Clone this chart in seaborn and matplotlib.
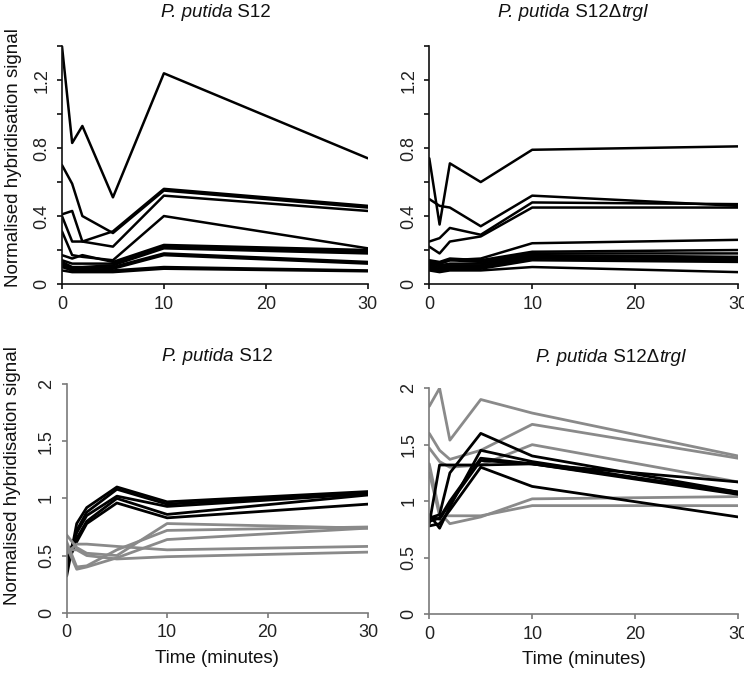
import matplotlib
matplotlib.use("Agg")
import numpy as np
import pandas as pd
import matplotlib.pyplot as plt
import seaborn as sns
from matplotlib.offsetbox import TextArea, HPacker, AnchoredOffsetbox

# ---------------------------- data ----------------------------
time = [0, 1, 2, 5, 10, 30]

# top row: individual probes, all black
wt_top = [
    [1.40, 0.83, 0.93, 0.51, 1.24, 0.74],
    [0.70, 0.59, 0.40, 0.30, 0.55, 0.45],
    [0.41, 0.43, 0.25, 0.31, 0.56, 0.46],
    [0.40, 0.25, 0.25, 0.22, 0.52, 0.43],
    [0.31, 0.17, 0.16, 0.14, 0.40, 0.21],
    [0.17, 0.15, 0.17, 0.13, 0.23, 0.20],
    [0.14, 0.12, 0.12, 0.12, 0.22, 0.19],
    [0.13, 0.10, 0.10, 0.11, 0.21, 0.18],
    [0.12, 0.09, 0.09, 0.10, 0.18, 0.13],
    [0.11, 0.08, 0.08, 0.09, 0.17, 0.12],
    [0.10, 0.08, 0.08, 0.08, 0.10, 0.08],
    [0.08, 0.07, 0.07, 0.07, 0.09, 0.075],
]
mut_top = [
    [0.74, 0.35, 0.71, 0.60, 0.79, 0.81],
    [0.50, 0.46, 0.45, 0.34, 0.52, 0.46],
    [0.25, 0.27, 0.33, 0.29, 0.48, 0.47],
    [0.22, 0.18, 0.25, 0.28, 0.45, 0.45],
    [0.13, 0.12, 0.14, 0.15, 0.24, 0.26],
    [0.14, 0.13, 0.15, 0.14, 0.19, 0.20],
    [0.13, 0.12, 0.14, 0.13, 0.18, 0.18],
    [0.12, 0.11, 0.12, 0.12, 0.17, 0.16],
    [0.11, 0.10, 0.11, 0.11, 0.16, 0.15],
    [0.10, 0.09, 0.10, 0.10, 0.15, 0.14],
    [0.09, 0.08, 0.09, 0.09, 0.14, 0.13],
    [0.08, 0.07, 0.08, 0.08, 0.10, 0.07],
]

# bottom row: black and grey probe groups
wt_bottom_black = [
    [0.32, 0.78, 0.92, 1.10, 0.97, 1.06],
    [0.40, 0.72, 0.88, 1.08, 0.95, 1.05],
    [0.45, 0.70, 0.85, 1.02, 0.93, 1.04],
    [0.50, 0.65, 0.80, 1.00, 0.86, 1.03],
    [0.42, 0.62, 0.78, 0.96, 0.83, 0.95],
]
wt_bottom_grey = [
    [0.68, 0.57, 0.52, 0.50, 0.78, 0.74],
    [0.62, 0.40, 0.41, 0.55, 0.72, 0.75],
    [0.58, 0.38, 0.40, 0.48, 0.64, 0.74],
    [0.52, 0.60, 0.60, 0.58, 0.55, 0.58],
    [0.55, 0.55, 0.50, 0.47, 0.49, 0.53],
]
mut_bottom_black = [
    [0.80, 1.32, 1.32, 1.32, 1.33, 1.17],
    [0.85, 0.88, 1.25, 1.60, 1.40, 1.08],
    [0.88, 0.76, 0.95, 1.45, 1.35, 1.07],
    [0.82, 0.85, 1.00, 1.38, 1.33, 1.08],
    [0.78, 0.80, 0.92, 1.30, 1.13, 0.86],
    [0.86, 0.84, 0.98, 1.36, 1.33, 1.06],
]
mut_bottom_grey = [
    [1.84, 2.00, 1.54, 1.90, 1.78, 1.40],
    [1.60, 1.45, 1.37, 1.45, 1.68, 1.38],
    [1.47, 1.35, 1.30, 1.32, 1.50, 1.17],
    [1.33, 0.90, 0.80, 0.86, 1.02, 1.04],
    [1.25, 0.87, 0.87, 0.87, 0.96, 0.96],
]

# title pieces: (text, italic?)
title_wt = [("P. putida", True), (" S12", False)]
title_mut = [("P. putida", True), (" S12Δ", False), ("trgI", True)]


def to_long(groups):
    rows = []
    for group, series in groups.items():
        for i, values in enumerate(series):
            for t, v in zip(time, values):
                rows.append({"time": t, "signal": v, "probe": f"{group}{i}", "group": group})
    return pd.DataFrame(rows)


def mixed_title(ax, pieces, x, y):
    areas = [
        TextArea(txt, textprops=dict(fontsize=13.5, color="#111111",
                                     fontstyle="italic" if it else "normal"))
        for txt, it in pieces
    ]
    box = HPacker(children=areas, align="baseline", pad=0, sep=0)
    anchored = AnchoredOffsetbox(loc="center", child=box, pad=0, frameon=False,
                                 bbox_to_anchor=(x, y), bbox_transform=ax.transAxes,
                                 borderpad=0)
    ax.add_artist(anchored)


# ---------------------------- style ----------------------------
sns.set_style("ticks")
plt.rcParams["font.family"] = ["Liberation Sans", "DejaVu Sans"]

fig = plt.figure(figsize=(7.44, 6.74), dpi=100)

positions = {
    "tl": [0.0833, 0.5786, 0.411, 0.353],
    "tr": [0.577, 0.5786, 0.415, 0.353],
    "bl": [0.0896, 0.091, 0.405, 0.339],
    "br": [0.577, 0.089, 0.415, 0.335],
}
palette = {"black": "black", "grey": "#8a8a8a"}

panels = [
    ("tl", {"black": wt_top}, title_wt, (0.503, 1.143)),
    ("tr", {"black": mut_top}, title_mut, (0.466, 1.143)),
    ("bl", {"black": wt_bottom_black, "grey": wt_bottom_grey}, title_wt, (0.50, 1.123)),
    ("br", {"grey": mut_bottom_grey, "black": mut_bottom_black}, title_mut, (0.589, 1.137)),
]

for key, groups, title, tpos in panels:
    ax = fig.add_axes(positions[key])
    df = to_long(groups)
    top = key.startswith("t")
    sns.lineplot(
        data=df, x="time", y="signal", units="probe", hue="group",
        palette=palette, estimator=None, legend=False,
        linewidth=1.8 if top else 2.0, ax=ax,
    )
    spine_col = "#111111" if top else "#7a7a7a"
    sns.despine(ax=ax)
    for s in ["left", "bottom"]:
        ax.spines[s].set_color(spine_col)
        ax.spines[s].set_linewidth(1.2)
    ax.set_xlim(0, 30)
    ax.set_xticks([0, 10, 20, 30])
    if top:
        ax.set_ylim(0, 1.4)
        yt = np.round(np.arange(0, 1.41, 0.2), 1)
        ax.set_yticks(yt)
        ax.set_yticklabels(["0", "", "0.4", "", "0.8", "", "1.2", ""])
    else:
        ax.set_ylim(0, 2)
        ax.set_yticks([0, 0.5, 1, 1.5, 2])
        ax.set_yticklabels(["0", "0.5", "1", "1.5", "2"])
    ax.tick_params(axis="both", length=3.5, width=1.2, color=spine_col,
                   labelsize=13, labelcolor="#222222", pad=5)
    for lab in ax.get_yticklabels():
        lab.set_rotation(90)
        lab.set_va("center")
    ax.set_xlabel("")
    ax.set_ylabel("")
    mixed_title(ax, title, tpos[0], tpos[1])

    if key == "tl":
        ax.set_ylabel("Normalised hybridisation signal", fontsize=13.5, color="#111111")
        ax.yaxis.set_label_coords(-0.13, 0.53)
    if key == "bl":
        ax.set_ylabel("Normalised hybridisation signal", fontsize=13.5, color="#111111")
        ax.yaxis.set_label_coords(-0.15, 0.60)
    if not top:
        ax.set_xlabel("Time (minutes)", fontsize=13.5, color="#111111", labelpad=6)

fig.savefig("out.png", dpi=100)
